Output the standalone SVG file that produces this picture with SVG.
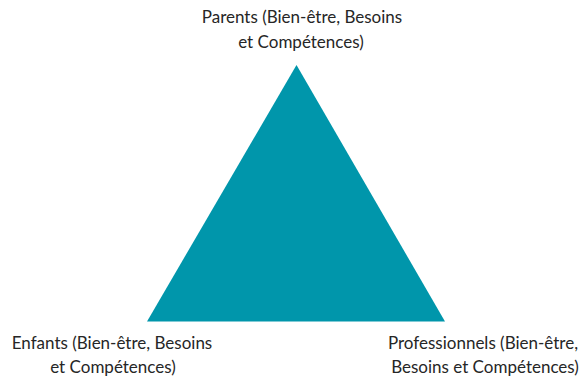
<svg xmlns="http://www.w3.org/2000/svg" width="587" height="379" viewBox="0 0 587 379">
<style>
.lbl{font-family:Lato,"Open Sans","Liberation Sans",sans-serif;font-size:17px;fill:#262626;text-anchor:middle}
</style>
<rect width="587" height="379" fill="#ffffff"/>
<g id="triangle">
<polygon points="296.5,65 147,321.5 445,321.5" fill="#0096AB"/>
</g>
<g id="parents">
<text class="lbl" x="302" y="23">Parents (Bien-être, Besoins</text>
<text class="lbl" x="301" y="48">et Compétences)</text>
</g>
<g id="enfants">
<text class="lbl" x="112" y="349">Enfants (Bien-être, Besoins</text>
<text class="lbl" x="113" y="373">et Compétences)</text>
</g>
<g id="professionnels">
<text class="lbl" x="483" y="349">Professionnels (Bien-être,</text>
<text class="lbl" x="485" y="373">Besoins et Compétences)</text>
</g>
<g id="connectors"></g>
</svg>
